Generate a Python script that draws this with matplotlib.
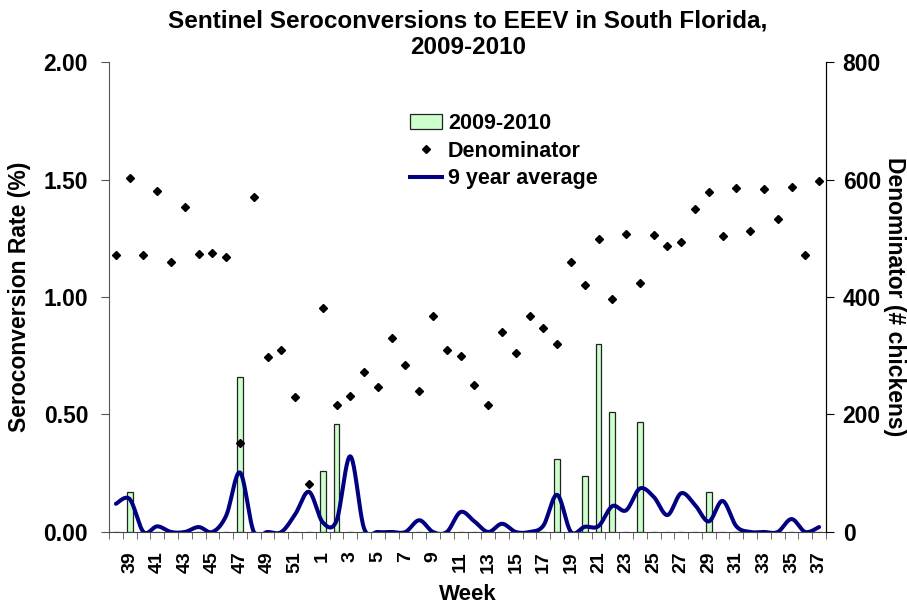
# Sentinel seroconversions to EEEV, South Florida 2009-2010
import numpy as np
import matplotlib
matplotlib.use('Agg')
import matplotlib.pyplot as plt
from matplotlib.patches import Patch
from matplotlib.lines import Line2D

plt.rcParams['font.family'] = ['Liberation Sans', 'DejaVu Sans']
plt.rcParams['font.weight'] = 'bold'
plt.rcParams['axes.labelweight'] = 'bold'

# ---- data ----
weeks = list(range(38, 53)) + list(range(1, 38))

# seroconversion rate (%) for 2009-2010, by week
rate_2009_2010 = {39: 0.17, 47: 0.66, 1: 0.26, 2: 0.46, 18: 0.31,
                  20: 0.24, 21: 0.80, 22: 0.51, 24: 0.47, 29: 0.17}

# number of sentinel chickens tested each week
denominator = [472, 603, 471, 580, 460, 553, 474, 475, 468, 151,
               571, 298, 309, 229, 81,
               381, 216, 231, 273, 246, 331, 284, 240, 368, 309,
               300, 251, 216, 341, 305, 368, 348, 320, 460, 421,
               498, 396, 507, 424, 505, 487, 494, 550, 578, 503,
               585, 513, 584, 532, 587, 471, 598]

# 9 year average seroconversion rate (%)
avg_9yr = [0.12, 0.14, 0.0, 0.024, 0.0, 0.0, 0.021, 0.0, 0.07, 0.253,
           0.0, 0.0, 0.0, 0.075, 0.171,
           0.041, 0.048, 0.322, 0.015, 0.0, 0.0, 0.0, 0.05, 0.0, 0.0,
           0.085, 0.045, 0.0, 0.035, 0.0, 0.0, 0.027, 0.158, 0.0, 0.022,
           0.025, 0.11, 0.092, 0.185, 0.15, 0.072, 0.165, 0.115, 0.045, 0.132,
           0.024, 0.0, 0.0, 0.0, 0.055, 0.0, 0.021]

x = np.arange(len(weeks))
bars = [rate_2009_2010.get(w, 0.0) for w in weeks]


def smooth(xs, ys, n=24):
    # Excel-like smoothed line (Catmull-Rom through each point)
    xs = np.asarray(xs, float)
    ys = np.asarray(ys, float)
    px = np.concatenate([[xs[0]], xs, [xs[-1]]])
    py = np.concatenate([[ys[0]], ys, [ys[-1]]])
    out_x, out_y = [], []
    t = np.linspace(0, 1, n)
    for i in range(1, len(px) - 2):
        p0 = np.array([px[i], py[i]])
        p3 = np.array([px[i + 1], py[i + 1]])
        c1 = p0 + (np.array([px[i + 1], py[i + 1]]) - np.array([px[i - 1], py[i - 1]])) / 6
        c2 = p3 - (np.array([px[i + 2], py[i + 2]]) - p0) / 6
        for tt in t:
            b = ((1 - tt) ** 3) * p0 + 3 * ((1 - tt) ** 2) * tt * c1 \
                + 3 * (1 - tt) * tt ** 2 * c2 + tt ** 3 * p3
            out_x.append(b[0])
            out_y.append(b[1])
    return out_x, out_y


fig = plt.figure(figsize=(9.07, 6.05), dpi=100)
ax = fig.add_axes([0.1202, 0.1207, 0.7905, 0.7768])
ax2 = ax.twinx()

# bars
ax.bar(x, bars, width=0.42, color='#ccffcc', edgecolor='#222222', linewidth=0.9, zorder=2)

# 9 year average
sx, sy = smooth(x, avg_9yr)
ax.plot(sx, sy, color='#000080', linewidth=2.9, solid_capstyle='round', zorder=3)

# denominator
ax2.plot(x, denominator, linestyle='none', marker='D', markersize=4.3,
         color='black', zorder=4)

# axes ranges and ticks
ax.set_xlim(-0.5, len(weeks) - 0.5)
ax.set_ylim(0, 2.0)
ax2.set_ylim(0, 800)

ax.set_yticks([0, 0.5, 1.0, 1.5, 2.0])
ax.set_yticklabels(['0.00', '0.50', '1.00', '1.50', '2.00'], fontsize=16.5)
ax2.set_yticks([0, 200, 400, 600, 800])
ax2.set_yticklabels(['0', '200', '400', '600', '800'], fontsize=16.5)

lab_pos = [i for i, w in enumerate(weeks) if w % 2 == 1]
ax.set_xticks(lab_pos)
ax.set_xticklabels([str(weeks[i]) for i in lab_pos], rotation=90, fontsize=14)
ax.set_xticks(np.arange(-0.5, len(weeks)), minor=True)
ax.tick_params(axis='x', which='major', length=0, pad=14)
ax.tick_params(axis='x', which='minor', length=5, color='#555555', direction='out')
ax.tick_params(axis='y', length=6, color='#555555', pad=9)
ax2.tick_params(axis='y', length=6, color='black', pad=6)

for a in (ax, ax2):
    a.spines['top'].set_visible(False)
ax.spines['left'].set_color('#555555')
ax.spines['bottom'].set_color('#444444')
ax2.spines['left'].set_visible(False)
ax2.spines['bottom'].set_visible(False)
ax2.spines['right'].set_color('black')

ax.set_ylabel('Seroconversion Rate (%)', fontsize=16.5, labelpad=9)
ax2.set_ylabel('Denominator (# chickens)', fontsize=16.5, rotation=-90, labelpad=18)
ax.set_xlabel('Week', fontsize=16, labelpad=8)

fig.text(0.516, 0.985, 'Sentinel Seroconversions to EEEV in South Florida,\n2009-2010',
         ha='center', va='top', fontsize=17.5, fontweight='bold', linespacing=1.2)

handles = [Patch(facecolor='#ccffcc', edgecolor='#222222', linewidth=0.9),
           Line2D([], [], linestyle='none', marker='D', markersize=4.3, color='black'),
           Line2D([], [], color='#000080', linewidth=2.9)]
fig.legend(handles, ['2009-2010', 'Denominator', '9 year average'],
           loc='upper left', bbox_to_anchor=(0.431, 0.845), frameon=False,
           fontsize=15.5, handlelength=1.45, handletextpad=0.3, labelspacing=0.3)

fig.savefig('out.png', dpi=100)
